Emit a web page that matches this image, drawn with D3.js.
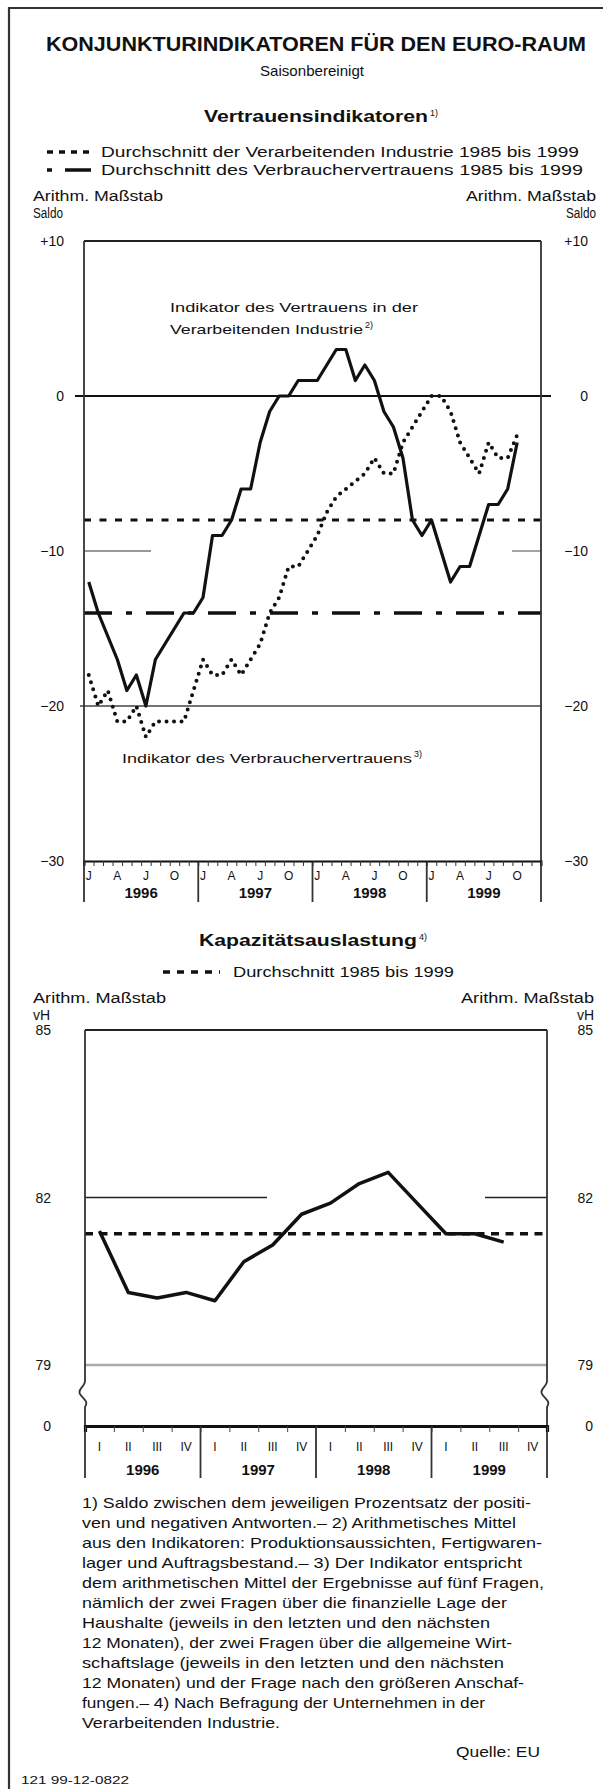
<!DOCTYPE html>
<html><head><meta charset="utf-8">
<script src="https://cdn.jsdelivr.net/npm/d3@7"></script>
<style>
body{margin:0;background:#fff}
svg{display:block}
text{font-family:"Liberation Sans",Arial,Helvetica,sans-serif;fill:#111}
</style>
</head><body>
<svg id="c" width="608" height="1789"></svg>
<script>
// ---------- DATA ----------
const years = ["1996", "1997", "1998", "1999"];
const monthLetters = ["J", "A", "J", "O"];          // Jan, Apr, Jul, Oct
const monthLetterIdx = [0, 3, 6, 9];
// Vertrauensindikator Verarbeitende Industrie, monthly Jan 1996 - Oct 1999 (Saldo)
const industry = [-12, -14, -15.5, -17, -19, -18, -20, -17, -16, -15, -14, -14,
                  -13, -9, -9, -8, -6, -6, -3, -1, 0, 0, 1, 1,
                  1, 2, 3, 3, 1, 2, 1, -1, -2, -4, -8, -9, -8, -10,
                  -12, -11, -11, -9, -7, -7, -6, -3];
// Verbrauchervertrauen, monthly Jan 1996 - Oct 1999 (Saldo)
const consumer = [-18, -20, -19, -21, -21, -20, -22, -21, -21, -21, -21, -19,
                  -17, -18, -18, -17, -18, -17, -16, -14, -13, -11, -11, -10,
                  -9, -7.5, -6.5, -6, -5.5, -5, -4, -5, -5, -3, -2, -1,
                  0, 0, -1, -3, -4, -5, -3, -4, -4, -2.5];
const industryAvg = -8;
const consumerAvg = -14;
const confTicks = [10, 0, -10, -20, -30];
const confTickLabels = ["+10", "0", "\u221210", "\u221220", "\u221230"];

// Kapazitätsauslastung, quarterly Q1 1996 - Q3 1999 (vH)
const quarterLabels = ["I", "II", "III", "IV"];
const capacity = [81.4, 80.3, 80.2, 80.3, 80.15, 80.85, 81.15, 81.7,
                  81.9, 82.25, 82.45, 81.9, 81.35, 81.35, 81.2];
const capacityAvg = 81.35;
const capTicks = [85, 82, 79];
const capTickLabels = ["85", "82", "79"];

const footnotes = [
 "1) Saldo zwischen dem jeweiligen Prozentsatz der positi-",
 "ven und negativen Antworten.\u2013 2) Arithmetisches Mittel",
 "aus den Indikatoren: Produktionsaussichten, Fertigwaren-",
 "lager und Auftragsbestand.\u2013 3) Der Indikator entspricht",
 "dem arithmetischen Mittel der Ergebnisse auf f\u00fcnf Fragen,",
 "n\u00e4mlich der zwei Fragen \u00fcber die finanzielle Lage der",
 "Haushalte (jeweils in den letzten und den n\u00e4chsten",
 "12 Monaten), der zwei Fragen \u00fcber die allgemeine Wirt-",
 "schaftslage (jeweils in den letzten und den n\u00e4chsten",
 "12 Monaten) und der Frage nach den gr\u00f6\u00dferen Anschaf-",
 "fungen.\u2013 4) Nach Befragung der Unternehmen in der",
 "Verarbeitenden Industrie."
];
const footnoteWidths = [449, 434, 460, 440, 462, 425, 408, 430, 422, 442, 403, 198];

// ---------- DRAW ----------
const svg = d3.select("#c");
svg.append("rect").attr("width", 608).attr("height", 1789).attr("fill", "#fff");

// frame
svg.append("path").attr("d", "M9,1789 V8 H603").attr("fill", "none")
   .attr("stroke", "#333").attr("stroke-width", 2.2);

function txt(x, y, s, o = {}) {
  const t = svg.append("text").attr("x", x).attr("y", y)
    .attr("font-size", o.fs || 14)
    .attr("font-weight", o.bold ? "bold" : "normal")
    .attr("text-anchor", o.anchor || "start")
    .text(s);
  if (o.w) t.attr("textLength", o.w).attr("lengthAdjust", "spacingAndGlyphs");
  return t;
}

// titles
txt(316, 51, "KONJUNKTURINDIKATOREN F\u00dcR DEN EURO-RAUM", {fs: 20, bold: true, anchor: "middle", w: 540});
txt(312, 76, "Saisonbereinigt", {fs: 15, anchor: "middle", w: 104});
txt(204, 122, "Vertrauensindikatoren", {fs: 16, bold: true, w: 224});
svg.append("text").attr("x", 430).attr("y", 116).attr("font-size", 9).text("1)");

// ---------- CHART 1 ----------
const x1 = d3.scaleLinear().domain([0, 48]).range([84, 541]);
const y1 = d3.scaleLinear().domain([-30, 10]).range([861, 241]);

// legend
svg.append("line").attr("x1", 47).attr("x2", 92).attr("y1", 152).attr("y2", 152)
  .attr("stroke", "#111").attr("stroke-width", 3.5).attr("stroke-dasharray", "6,6");
txt(101, 157, "Durchschnitt der Verarbeitenden Industrie 1985 bis 1999", {fs: 14, w: 478});
svg.append("line").attr("x1", 47).attr("x2", 91).attr("y1", 170).attr("y2", 170)
  .attr("stroke", "#111").attr("stroke-width", 3.5).attr("stroke-dasharray", "5,13,26,40");
txt(101, 175, "Durchschnitt des Verbrauchervertrauens 1985 bis 1999", {fs: 14, w: 482});

txt(33, 201, "Arithm. Ma\u00dfstab", {fs: 14, w: 130});
txt(33, 218, "Saldo", {fs: 14, w: 30});
txt(596, 201, "Arithm. Ma\u00dfstab", {fs: 14, anchor: "end", w: 130});
txt(596, 218, "Saldo", {fs: 14, anchor: "end", w: 30});

// grid / reference lines
const g1 = svg.append("g");
g1.append("line").attr("x1", x1(0)).attr("x2", x1(48)).attr("y1", y1(10)).attr("y2", y1(10))
  .attr("stroke", "#222").attr("stroke-width", 1.8);
g1.append("line").attr("x1", 75).attr("x2", 551).attr("y1", y1(0)).attr("y2", y1(0))
  .attr("stroke", "#111").attr("stroke-width", 2.2);
g1.append("line").attr("x1", 80).attr("x2", x1(48)).attr("y1", y1(-20)).attr("y2", y1(-20))
  .attr("stroke", "#444").attr("stroke-width", 1.5);
g1.append("line").attr("x1", x1(0)).attr("x2", 151).attr("y1", y1(-10)).attr("y2", y1(-10))
  .attr("stroke", "#999").attr("stroke-width", 1.8);
g1.append("line").attr("x1", 512).attr("x2", x1(48)).attr("y1", y1(-10)).attr("y2", y1(-10))
  .attr("stroke", "#999").attr("stroke-width", 1.8);

// axis labels left/right
svg.append("g").selectAll("text").data(confTicks).join("text")
  .attr("x", 64).attr("y", d => y1(d) + 5).attr("text-anchor", "end")
  .attr("font-size", 14).text((d, i) => confTickLabels[i]);
svg.append("g").selectAll("text").data(confTicks).join("text")
  .attr("x", 588).attr("y", d => y1(d) + 5).attr("text-anchor", "end")
  .attr("font-size", 14).text((d, i) => confTickLabels[i]);

// averages
g1.append("line").attr("x1", x1(0)).attr("x2", x1(48)).attr("y1", y1(industryAvg)).attr("y2", y1(industryAvg))
  .attr("stroke", "#111").attr("stroke-width", 3.2).attr("stroke-dasharray", "7,8.5");
g1.append("line").attr("x1", x1(0)).attr("x2", x1(48)).attr("y1", y1(consumerAvg)).attr("y2", y1(consumerAvg))
  .attr("stroke", "#111").attr("stroke-width", 3.5).attr("stroke-dasharray", "28,14,6,14");

// x axis
const ax1 = svg.append("g").attr("transform", `translate(0,${y1(-30)})`)
  .call(d3.axisBottom(x1).tickValues(d3.range(49)).tickSize(5).tickFormat(""));
ax1.select(".domain").attr("stroke", "#111").attr("stroke-width", 2);
ax1.selectAll(".tick line").attr("stroke", "#333").attr("stroke-width", 1);

// borders and year dividers
g1.selectAll("line.yd").data(d3.range(5)).join("line").attr("class", "yd")
  .attr("x1", d => x1(d * 12)).attr("x2", d => x1(d * 12))
  .attr("y1", d => (d === 0 || d === 4) ? y1(10) : y1(-30)).attr("y2", 902)
  .attr("stroke", "#333").attr("stroke-width", 1.8);

// month letters and years
years.forEach((yr, yi) => {
  monthLetterIdx.forEach((m, k) => {
    svg.append("text").attr("x", x1(yi * 12 + m + 0.5)).attr("y", 880)
      .attr("text-anchor", "middle").attr("font-size", 12).text(monthLetters[k]);
  });
  svg.append("text").attr("x", x1(yi * 12 + 6)).attr("y", 898)
    .attr("text-anchor", "middle").attr("font-size", 15).attr("font-weight", "bold").text(yr);
});

// series
const line1 = d3.line().x((d, i) => x1(i + 0.5)).y(d => y1(d));
g1.append("path").datum(consumer).attr("d", line1).attr("fill", "none")
  .attr("stroke", "#111").attr("stroke-width", 4).attr("stroke-linecap", "round")
  .attr("stroke-dasharray", "0,7.5");
g1.append("path").datum(industry).attr("d", line1).attr("fill", "none")
  .attr("stroke", "#111").attr("stroke-width", 3.2).attr("stroke-linejoin", "round");

// annotations
txt(170, 312, "Indikator des Vertrauens in der", {fs: 13.5, w: 248});
txt(170, 334, "Verarbeitenden Industrie", {fs: 13.5, w: 193});
svg.append("text").attr("x", 365).attr("y", 328).attr("font-size", 9).text("2)");
txt(122, 763, "Indikator des Verbrauchervertrauens", {fs: 13.5, w: 290});
svg.append("text").attr("x", 414).attr("y", 757).attr("font-size", 9).text("3)");

// ---------- CHART 2 ----------
const x2 = d3.scaleLinear().domain([0, 16]).range([85, 547]);
const y2 = d3.scaleLinear().domain([79, 85]).range([1365, 1030]);
const base2 = 1426;

txt(199, 946, "Kapazit\u00e4tsauslastung", {fs: 16, bold: true, w: 218});
svg.append("text").attr("x", 419).attr("y", 940).attr("font-size", 9).text("4)");
svg.append("line").attr("x1", 163).attr("x2", 220).attr("y1", 972).attr("y2", 972)
  .attr("stroke", "#111").attr("stroke-width", 3.5).attr("stroke-dasharray", "7,7");
txt(233, 977, "Durchschnitt 1985 bis 1999", {fs: 14, w: 221});

txt(33, 1003, "Arithm. Ma\u00dfstab", {fs: 14, w: 133});
txt(33, 1020, "vH", {fs: 14});
txt(594, 1003, "Arithm. Ma\u00dfstab", {fs: 14, anchor: "end", w: 133});
txt(594, 1020, "vH", {fs: 14, anchor: "end"});

const g2 = svg.append("g");
g2.append("line").attr("x1", x2(0)).attr("x2", x2(16)).attr("y1", y2(85)).attr("y2", y2(85))
  .attr("stroke", "#222").attr("stroke-width", 1.8);
g2.append("line").attr("x1", x2(0)).attr("x2", 267).attr("y1", y2(82)).attr("y2", y2(82))
  .attr("stroke", "#222").attr("stroke-width", 1.5);
g2.append("line").attr("x1", 485).attr("x2", x2(16)).attr("y1", y2(82)).attr("y2", y2(82))
  .attr("stroke", "#222").attr("stroke-width", 1.5);
g2.append("line").attr("x1", x2(0)).attr("x2", x2(16)).attr("y1", y2(79)).attr("y2", y2(79))
  .attr("stroke", "#aaa").attr("stroke-width", 2.6);

svg.append("g").selectAll("text").data(capTicks).join("text")
  .attr("x", 51).attr("y", d => y2(d) + 5).attr("text-anchor", "end")
  .attr("font-size", 14).text((d, i) => capTickLabels[i]);
svg.append("g").selectAll("text").data(capTicks).join("text")
  .attr("x", 593).attr("y", d => y2(d) + 5).attr("text-anchor", "end")
  .attr("font-size", 14).text((d, i) => capTickLabels[i]);
svg.append("text").attr("x", 51).attr("y", base2 + 5).attr("text-anchor", "end").attr("font-size", 14).text("0");
svg.append("text").attr("x", 593).attr("y", base2 + 5).attr("text-anchor", "end").attr("font-size", 14).text("0");

// average
g2.append("line").attr("x1", x2(0)).attr("x2", x2(16)).attr("y1", y2(capacityAvg)).attr("y2", y2(capacityAvg))
  .attr("stroke", "#111").attr("stroke-width", 3.5).attr("stroke-dasharray", "8,6.5");

// borders with axis breaks
[x2(0), x2(16)].forEach(xx => {
  g2.append("path")
    .attr("d", `M${xx},${y2(85)} V1381 C${xx},1387 ${xx - 8},1389 ${xx - 5},1394 S${xx + 4},1401 ${xx},1407 V1478`)
    .attr("fill", "none").attr("stroke", "#333").attr("stroke-width", 1.8);
});

const ax2 = svg.append("g").attr("transform", `translate(0,${base2})`)
  .call(d3.axisBottom(x2).tickValues(d3.range(17)).tickSize(6).tickFormat(""));
ax2.select(".domain").attr("stroke", "#111").attr("stroke-width", 3.2);
ax2.selectAll(".tick line").attr("stroke", "#444").attr("stroke-width", 1);

g2.selectAll("line.yd").data([1, 2, 3]).join("line").attr("class", "yd")
  .attr("x1", d => x2(d * 4)).attr("x2", d => x2(d * 4))
  .attr("y1", base2).attr("y2", 1478).attr("stroke", "#333").attr("stroke-width", 1.8);

years.forEach((yr, yi) => {
  quarterLabels.forEach((q, k) => {
    svg.append("text").attr("x", x2(yi * 4 + k + 0.5)).attr("y", 1451)
      .attr("text-anchor", "middle").attr("font-size", 12).text(q);
  });
  svg.append("text").attr("x", x2(yi * 4 + 2)).attr("y", 1475)
    .attr("text-anchor", "middle").attr("font-size", 15).attr("font-weight", "bold").text(yr);
});

const line2 = d3.line().x((d, i) => x2(i + 0.5)).y(d => y2(d));
g2.append("path").datum(capacity).attr("d", line2).attr("fill", "none")
  .attr("stroke", "#111").attr("stroke-width", 3.5).attr("stroke-linejoin", "round");

// ---------- FOOTNOTES ----------
footnotes.forEach((s, i) => {
  txt(82, 1508 + i * 20.0, s, {fs: 15, w: footnoteWidths[i]});
});
txt(540, 1757, "Quelle: EU", {fs: 14, anchor: "end", w: 84});
txt(21, 1784, "121 99-12-0822", {fs: 11, w: 108});
</script>
</body></html>
